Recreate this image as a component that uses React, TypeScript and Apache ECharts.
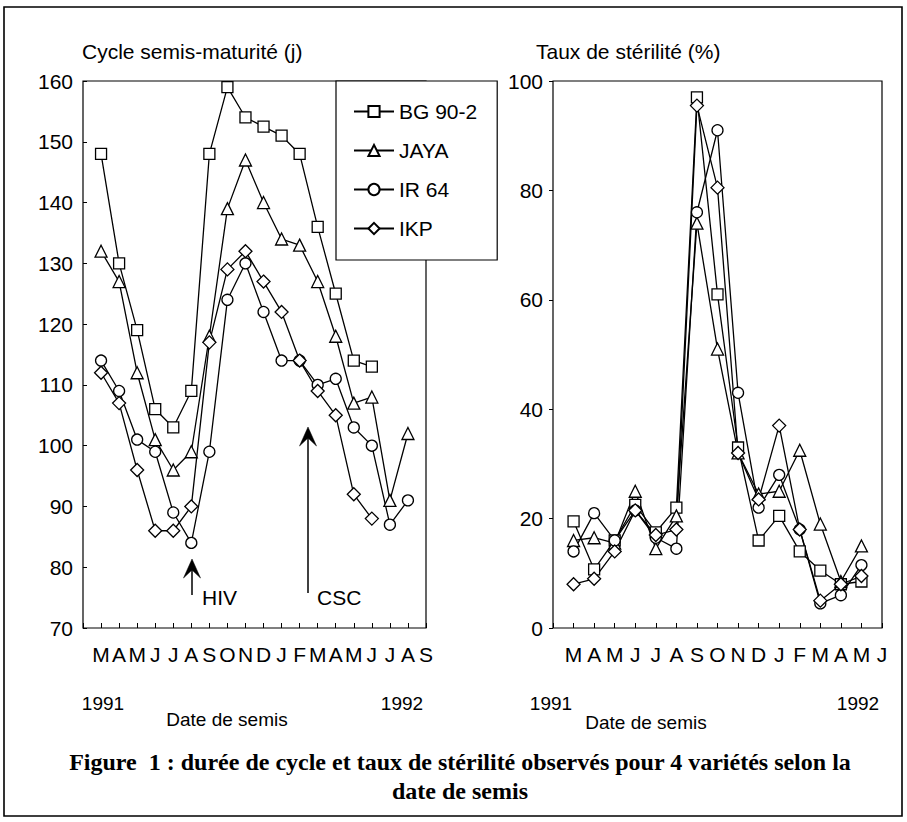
import React, { useEffect, useRef } from 'react';
import * as echarts from 'echarts';

// ---- data ----
const monthsCycle = ['', 'M', 'A', 'M', 'J', 'J', 'A', 'S', 'O', 'N', 'D', 'J', 'F', 'M', 'A', 'M', 'J', 'J', 'A', 'S'];
const monthsSterility = ['', 'M', 'A', 'M', 'J', 'J', 'A', 'S', 'O', 'N', 'D', 'J', 'F', 'M', 'A', 'M', 'J'];
const cycleTicks = [70, 80, 90, 100, 110, 120, 130, 140, 150, 160];
const sterilityTicks = [0, 20, 40, 60, 80, 100];

const varieties = ['BG 90-2', 'JAYA', 'IR 64', 'IKP'];
const varietySymbols = ['rect', 'triangle', 'circle', 'diamond'];

// Cycle semis-maturité (j), from Mar 1991
const cycleBG = [148, 130, 119, 106, 103, 109, 148, 159, 154, 152.5, 151, 148, 136, 125, 114, 113];
const cycleJAYA = [132, 127, 112, 101, 96, 99, 118, 139, 147, 140, 134, 133, 127, 118, 107, 108, 91, 102];
const cycleIR64 = [114, 109, 101, 99, 89, 84, 99, 124, 130, 122, 114, 114, 110, 111, 103, 100, 87, 91];
const cycleIKP = [112, 107, 96, 86, 86, 90, 117, 129, 132, 127, 122, 114, 109, 105, 92, 88];

// Taux de stérilité (%), from Mar 1991
const sterBG = [19.5, 10.7, 16, 22.5, 17.5, 22, 97, 61, 33, 16, 20.5, 14, 10.5, 8, 8.5];
const sterJAYA = [16, 16.5, 15.5, 25, 14.5, 20.5, 74, 51, 32, 24.5, 25, 32.5, 19, 8.5, 15];
const sterIR64 = [14, 21, 16, 21.5, 16.5, 14.5, 76, 91, 43, 22, 28, 18, 4.5, 6, 11.5];
const sterIKP = [8, 9, 14, 21.5, 17, 18, 95.5, 80.5, 32, 23.5, 37, 18, 5, 8, 9.5];

const cycleSeries = [cycleBG, cycleJAYA, cycleIR64, cycleIKP];
const sterSeries = [sterBG, sterJAYA, sterIR64, sterIKP];

const SANS = '"Liberation Sans", Arial, sans-serif';
const SERIF = '"Liberation Serif", "Times New Roman", serif';

const symbolSizeOf = (s: string) => (s === 'diamond' ? 13 : s === 'triangle' ? 12 : 11);

function makeSeries(values: number[], idx: number, axis: number) {
  const sym = varietySymbols[idx];
  return {
    type: 'line',
    name: varieties[idx],
    xAxisIndex: axis,
    yAxisIndex: axis,
    data: values.map((v, i) => [i + 1, v]),
    symbol: sym,
    symbolSize: symbolSizeOf(sym),
    showAllSymbol: true,
    lineStyle: { color: '#000', width: 1.3 },
    itemStyle: { color: '#fff', borderColor: '#000', borderWidth: 1.3 },
    emphasis: { disabled: true },
    z: 3,
  };
}

function xAxisFor(gridIndex: number, labels: string[]) {
  return {
    type: 'value',
    gridIndex,
    min: 0,
    max: labels.length - 1,
    interval: 1,
    axisLine: { show: false },
    axisTick: { show: true, inside: true, length: 5, lineStyle: { color: '#000', width: 1 } },
    axisLabel: {
      formatter: (v: number) => labels[Math.round(v)] ?? '',
      color: '#000',
      fontSize: 21,
      fontFamily: SANS,
      margin: 16,
    },
    splitLine: { show: false },
  };
}

function yAxisFor(gridIndex: number, ticks: number[], inside: boolean) {
  return {
    type: 'value',
    gridIndex,
    min: ticks[0],
    max: ticks[ticks.length - 1],
    interval: ticks[1] - ticks[0],
    axisLine: { show: false },
    axisTick: { show: true, inside, length: 4, lineStyle: { color: '#000', width: 1 } },
    axisLabel: { color: '#000', fontSize: 21, fontFamily: SANS, margin: 10 },
    splitLine: { show: false },
  };
}

function txt(text: string, x: number, y: number, font: string, align = 'left') {
  return {
    type: 'text',
    x,
    y,
    z: 20,
    style: {
      text,
      font,
      fill: '#000',
      textAlign: align,
      align,
      textVerticalAlign: 'middle',
      verticalAlign: 'middle',
    },
  };
}

function arrow(x: number, yTip: number, yBottom: number) {
  return [
    {
      type: 'line',
      z: 20,
      shape: { x1: x, y1: yTip + 10, x2: x, y2: yBottom },
      style: { stroke: '#000', lineWidth: 1.5 },
    },
    {
      type: 'polygon',
      z: 20,
      shape: { points: [[x, yTip], [x - 8.5, yTip + 19], [x, yTip + 11], [x + 8.5, yTip + 19]] },
      style: { fill: '#000', stroke: '#000', lineWidth: 0.5 },
    },
  ];
}

export default function App() {
  const ref = useRef<HTMLDivElement>(null);

  useEffect(() => {
    if (!ref.current) return;
    const chart = echarts.init(ref.current, null, { renderer: 'svg' });
    const font21 = `21px ${SANS}`;
    const font19 = `19px ${SANS}`;
    const capFont = `bold 24px ${SERIF}`;

    const option = {
      animation: false,
      backgroundColor: '#fff',
      textStyle: { fontFamily: SANS },
      grid: [
        { left: 83, top: 81, width: 343, height: 547, show: true, borderColor: '#000', borderWidth: 1.2, backgroundColor: 'transparent' },
        { left: 553, top: 81, width: 329, height: 547, show: true, borderColor: '#000', borderWidth: 1.2, backgroundColor: 'transparent' },
      ],
      xAxis: [xAxisFor(0, monthsCycle), xAxisFor(1, monthsSterility)],
      yAxis: [yAxisFor(0, cycleTicks, true), yAxisFor(1, sterilityTicks, false)],
      legend: {
        data: varieties,
        orient: 'vertical',
        left: 336,
        top: 81,
        padding: [20, 20, 21, 17],
        itemWidth: 40,
        itemHeight: 14,
        itemGap: 18,
        backgroundColor: '#fff',
        borderColor: '#000',
        borderWidth: 1.2,
        selectedMode: false,
        z: 10,
        textStyle: { color: '#000', fontSize: 21, fontFamily: SANS, lineHeight: 21 },
      },
      graphic: [
        {
          type: 'rect',
          z: 0,
          shape: { x: 4, y: 7, width: 898, height: 809 },
          style: { fill: 'none', stroke: '#000', lineWidth: 1.6 },
        },
        txt('Cycle semis-maturité (j)', 82, 51, font21),
        txt('Taux de stérilité (%)', 536, 51, font21),
        ...arrow(192, 559, 595),
        ...arrow(308, 427, 593),
        txt('HIV', 202, 597, font21),
        txt('CSC', 317, 597, font21),
        txt('1991', 103, 703, font19, 'center'),
        txt('Date de semis', 227, 719, font19, 'center'),
        txt('1992', 402, 703, font19, 'center'),
        txt('1991', 551, 703, font19, 'center'),
        txt('Date de semis', 646, 722, font19, 'center'),
        txt('1992', 858, 703, font19, 'center'),
        txt('Figure  1 : durée de cycle et taux de stérilité observés pour 4 variétés selon la', 460, 762, capFont, 'center'),
        txt('date de semis', 460, 791, capFont, 'center'),
      ],
      series: [
        ...cycleSeries.map((s, i) => makeSeries(s, i, 0)),
        ...sterSeries.map((s, i) => makeSeries(s, i, 1)),
      ],
    };

    chart.setOption(option as any);
    return () => chart.dispose();
  }, []);

  return (
    <div
      ref={ref}
      style={{ position: 'absolute', left: 0, top: 0, width: 907, height: 822 }}
    />
  );
}
